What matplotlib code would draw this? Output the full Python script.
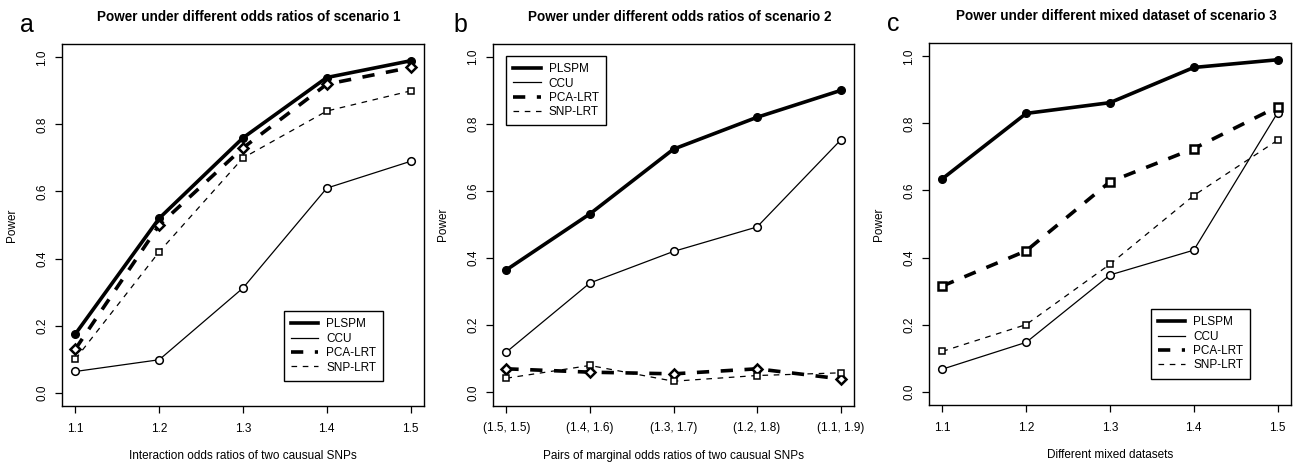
import matplotlib
matplotlib.use("Agg")
import matplotlib.pyplot as plt
from matplotlib.lines import Line2D

plt.rcParams['font.family'] = ['Liberation Sans', 'DejaVu Sans']

methods = ["PLSPM", "CCU", "PCA-LRT", "SNP-LRT"]

# Panel a
x_a = [1.1, 1.2, 1.3, 1.4, 1.5]
a_plspm = [0.175, 0.52, 0.76, 0.94, 0.99]
a_ccu = [0.063, 0.098, 0.312, 0.61, 0.69]
a_pca = [0.13, 0.50, 0.73, 0.92, 0.97]
a_snp = [0.10, 0.42, 0.70, 0.84, 0.90]

# Panel b
x_b_labels = ["(1.5, 1.5)", "(1.4, 1.6)", "(1.3, 1.7)", "(1.2, 1.8)", "(1.1, 1.9)"]
b_plspm = [0.365, 0.532, 0.725, 0.82, 0.90]
b_ccu = [0.12, 0.326, 0.42, 0.493, 0.752]
b_pca = [0.07, 0.06, 0.055, 0.07, 0.04]
b_snp = [0.042, 0.08, 0.033, 0.05, 0.058]

# Panel c
x_c = [1.1, 1.2, 1.3, 1.4, 1.5]
c_plspm = [0.635, 0.83, 0.862, 0.967, 0.99]
c_ccu = [0.067, 0.147, 0.348, 0.422, 0.832]
c_pca = [0.315, 0.42, 0.626, 0.725, 0.85]
c_snp = [0.12, 0.20, 0.38, 0.585, 0.75]

titles = ["Power under different odds ratios of scenario 1",
          "Power under different odds ratios of scenario 2",
          "Power under different mixed dataset of scenario 3"]
xlabels = ["Interaction odds ratios of two causual SNPs",
           "Pairs of marginal odds ratios of two causual SNPs",
           "Different mixed datasets"]
letters = ["a", "b", "c"]
yticks = [0.0, 0.2, 0.4, 0.6, 0.8, 1.0]

W, H = 1295, 463
fig = plt.figure(figsize=(W / 100, H / 100), dpi=100)

boxes = [(62, 424, 44, 406), (493, 854, 43.5, 405.7), (929, 1291, 43, 405)]
letter_x = [27, 460, 893]

styles = {
    "PLSPM": dict(color="black", lw=2.6, ls="-"),
    "CCU": dict(color="black", lw=0.9, ls="-"),
    "PCA-LRT": dict(color="black", lw=2.6, ls=(0, (3.4, 3.2))),
    "SNP-LRT": dict(color="black", lw=0.9, ls=(0, (4.5, 4.5))),
}

panels = [
    (list(range(len(x_a))), [str(v) for v in x_a], [a_plspm, a_ccu, a_pca, a_snp], 'D', ('lower left', (0.613, 0.07))),
    (list(range(len(x_b_labels))), x_b_labels, [b_plspm, b_ccu, b_pca, b_snp], 'D', ('upper left', (0.037, 0.965))),
    (list(range(len(x_c))), [str(v) for v in x_c], [c_plspm, c_ccu, c_pca, c_snp], 's', ('lower left', (0.613, 0.073))),
]

for i, ((l, r, t, b), (xs, xtl, series, pca_marker, leg)) in enumerate(zip(boxes, panels)):
    ax = fig.add_axes([l / W, (H - b) / H, (r - l) / W, (b - t) / H])
    aw = r - l
    ah = b - t
    markers = ['o', 'o', pca_marker, 's']
    faces = ['black', 'white', 'white', 'white']
    msizes = [5.5, 5.5, 5.5, 5.0]
    mews = [1.0, 1.1, 1.8, 1.1]
    for m, ys, mk, fc, ms, mew in zip(methods, series, markers, faces, msizes, mews):
        st = styles[m]
        ax.plot(xs, ys, color=st["color"], lw=st["lw"], ls=st["ls"],
                marker=mk, markerfacecolor=fc, markeredgecolor="black",
                markersize=ms, markeredgewidth=mew, zorder=3)
    span = xs[-1] - xs[0]
    ax.set_xlim(xs[0] - 0.04 * span, xs[-1] + 0.04 * span)
    ax.set_ylim(-0.04, 1.04)
    ax.set_xticks(xs)
    ax.set_xticklabels(xtl, fontsize=8.5)
    ax.set_yticks(yticks)
    ax.set_yticklabels([f"{v:.1f}" for v in yticks], fontsize=8.5, rotation=90, va='center')
    ax.tick_params(axis='x', length=5, width=0.9, pad=7)
    ax.tick_params(axis='y', length=5, width=0.9, pad=5)
    for s in ax.spines.values():
        s.set_linewidth(1.0)
    ax.set_xlabel(xlabels[i], fontsize=8.5)
    ax.xaxis.set_label_coords(0.5, -0.122)
    ax.set_ylabel("Power", fontsize=8.5)
    ax.yaxis.set_label_coords(-44 / aw, 0.5)
    ax.text(0.5 + 6 / aw, 1 + 27 / ah, titles[i], transform=ax.transAxes, ha='center', va='center',
            fontsize=9.75, fontweight='bold')
    ax.text(-(l - letter_x[i]) / aw, 1 + 19 / ah, letters[i], transform=ax.transAxes,
            ha='center', va='center', fontsize=18)
    handles = [Line2D([], [], color=styles[m]["color"], lw=styles[m]["lw"], ls=styles[m]["ls"]) for m in methods]
    lg = ax.legend(handles, methods, loc=leg[0], bbox_to_anchor=leg[1], fontsize=8.5,
                   frameon=True, fancybox=False, edgecolor='black', framealpha=1,
                   handlelength=2.3, handletextpad=0.7, labelspacing=0.2,
                   borderpad=0.6, borderaxespad=0)
    lg.get_frame().set_linewidth(1.0)

fig.savefig("out.png", dpi=100)
